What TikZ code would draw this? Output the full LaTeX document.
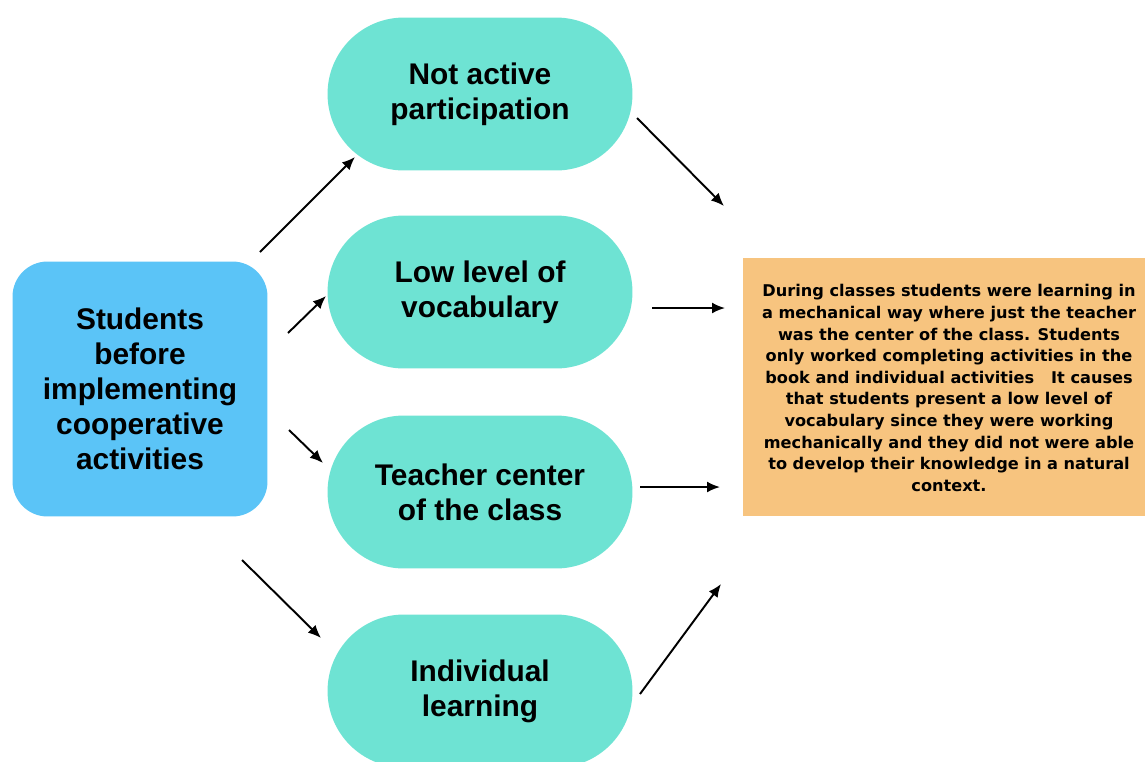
\documentclass[tikz,border=0pt]{standalone}
\usepackage{fontspec}
\setmainfont{Liberation Sans}
\newfontfamily\notefont{DejaVu Sans}
\usepackage{tikz}
\usetikzlibrary{arrows.meta}

\definecolor{skyblue}{HTML}{5BC4F7}
\definecolor{aqua}{HTML}{6EE3D3}
\definecolor{sand}{HTML}{F7C47F}

\tikzset{
    pill/.style={fill=aqua, draw=none, minimum width=6.1cm, minimum height=3.06cm,
        rounded corners=1.53cm, align=center, font=\fontsize{17}{20}\selectfont\bfseries},
    arr/.style={-{Latex[length=2.6mm,width=2.2mm]}, line width=1.1pt, black}
}

\begin{document}
\begin{tikzpicture}[x=0.02cm,y=-0.02cm]
    \useasboundingbox (0,0) rectangle (1145,761);

    \node[fill=skyblue, minimum width=5.1cm, minimum height=5.1cm, rounded corners=0.7cm,
        align=center, font=\fontsize{17}{20}\selectfont\bfseries] (start) at (140,389)
        {Students\\before\\implementing\\cooperative\\activities};

    \node[pill] (passive) at (480,94) {Not active\\participation};
    \node[pill] (vocab) at (480,292) {Low level of\\vocabulary};
    \node[pill] (teacher) at (480,492) {Teacher center\\of the class};
    \node[pill] (alone) at (480,691) {Individual\\learning};

    \node[fill=sand, minimum width=8.04cm, minimum height=5.16cm] (panel) at (944,387) {};
    \node[align=center, font=\notefont\fontsize{9.2}{12.3}\selectfont\bfseries] (summary) at (949,388)
        {During classes students were learning in\\
         a mechanical way where just the teacher\\
         was the center of the class. Students\\
         only worked completing activities in the\\
         book and individual activities\ \ \ It causes\\
         that students present a low level of\\
         vocabulary since they were working\\
         mechanically and they did not were able\\
         to develop their knowledge in a natural\\
         context.};

    % arrow ends
    \coordinate (s1) at (260,252);
    \coordinate (e1) at (355,157);
    \coordinate (s2) at (288,333);
    \coordinate (e2) at (326,296);
    \coordinate (s3) at (289,430);
    \coordinate (e3) at (323,463);
    \coordinate (s4) at (242,560);
    \coordinate (e4) at (321,638);
    \coordinate (t1) at (637,118);
    \coordinate (u1) at (724,206);
    \coordinate (t2) at (652,308);
    \coordinate (u2) at (725,308);
    \coordinate (t3) at (640,487);
    \coordinate (u3) at (720,487);
    \coordinate (t4) at (640,694);
    \coordinate (u4) at (721,584);

    \draw[arr] (s1) -- (e1); % to passive
    \draw[arr] (s2) -- (e2); % to vocab
    \draw[arr] (s3) -- (e3); % to teacher
    \draw[arr] (s4) -- (e4); % to alone

    \draw[arr] (t1) -- (u1);
    \draw[arr] (t2) -- (u2);
    \draw[arr] (t3) -- (u3);
    \draw[arr] (t4) -- (u4);
\end{tikzpicture}
\end{document}
